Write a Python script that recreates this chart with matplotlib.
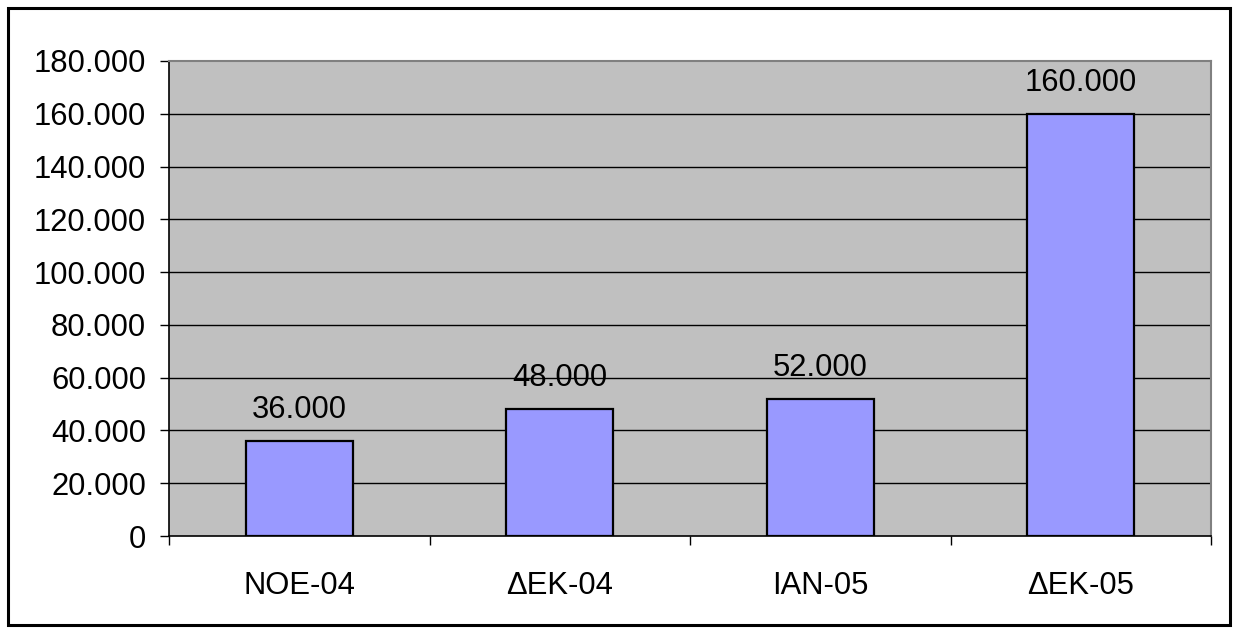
import matplotlib
matplotlib.use("Agg")
import matplotlib.pyplot as plt
from matplotlib.patches import Rectangle
from matplotlib.ticker import FixedLocator, FuncFormatter

categories = ["ΝΟΕ-04", "ΔΕΚ-04", "ΙΑΝ-05", "ΔΕΚ-05"]
values = [36000, 48000, 52000, 160000]
yticks = [0, 20000, 40000, 60000, 80000, 100000, 120000, 140000, 160000, 180000]

plt.rcParams['font.family'] = ['Liberation Sans', 'DejaVu Sans']
FS = 22.3

W, H = 1237, 632
fig = plt.figure(figsize=(W / 100, H / 100), dpi=100)
fig.patch.set_facecolor('white')

# outer border
fig.patches.append(Rectangle((8 / W, 1 - 625 / H), (1230 - 8) / W, (625 - 8) / H,
                             transform=fig.transFigure, fill=False,
                             edgecolor='black', linewidth=2.2, zorder=10))

ax = fig.add_axes([169 / W, 1 - 536 / H, (1211 - 169) / W, (536 - 61) / H])
ax.set_facecolor('#C0C0C0')

def fmt(v):
    return f"{int(v):,}".replace(",", ".")

x = list(range(len(categories)))
bars = ax.bar(x, values, width=0.41, color='#9999FF', edgecolor='black',
              linewidth=1.6, zorder=3)
for xi, v in zip(x, values):
    ax.annotate(fmt(v), (xi, v), xytext=(0, 11.5), textcoords='offset points',
                ha='center', va='bottom', fontsize=FS, color='black')

ax.set_xlim(-0.5, len(categories) - 0.5)
ax.set_ylim(0, 180000)
ax.set_yticks(yticks)
ax.yaxis.set_major_formatter(FuncFormatter(lambda v, p: fmt(v)))
ax.tick_params(axis='y', length=6.5, width=1, pad=10, labelsize=FS, colors='black')

# x: boundary ticks (major), labels at centres (minor)
ax.xaxis.set_major_locator(FixedLocator([i - 0.5 for i in range(len(categories) + 1)]))
ax.xaxis.set_major_formatter(FuncFormatter(lambda v, p: ""))
ax.xaxis.set_minor_locator(FixedLocator(x))
ax.set_xticklabels(categories, minor=True)
ax.tick_params(axis='x', which='major', length=6.5, width=1, color='black')
ax.tick_params(axis='x', which='minor', length=0, pad=25.5, labelsize=FS)

for yv in yticks[1:-1]:
    ax.axhline(yv, color='black', linewidth=1.0, zorder=1)

ax.spines['left'].set_color('black')
ax.spines['bottom'].set_color('black')
ax.spines['left'].set_linewidth(1.2)
ax.spines['bottom'].set_linewidth(1.2)
ax.spines['top'].set_color('#808080')
ax.spines['right'].set_color('#808080')
ax.spines['top'].set_linewidth(1.5)
ax.spines['right'].set_linewidth(1.5)

fig.savefig("out.png", dpi=100)
